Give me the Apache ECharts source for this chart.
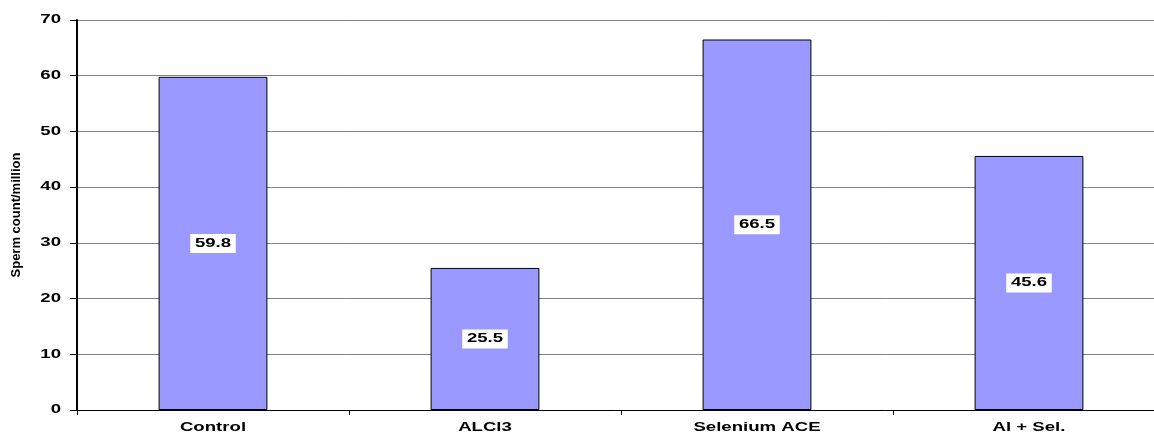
<!DOCTYPE html>
<html>
<head>
<meta charset="utf-8">
<script src="https://cdn.jsdelivr.net/npm/echarts@6/dist/echarts.min.js"></script>
<style>
  html, body { margin: 0; padding: 0; background: #fff; overflow: hidden; }
  #chart { width: 1154px; height: 432px; }
</style>
</head>
<body>
<div id="chart"></div>
<script>
// Sperm count per group
const categories = ['Control', 'ALCl3', 'Selenium ACE', 'Al + Sel.'];
const spermCount = [59.8, 25.5, 66.5, 45.6];
const yTickValues = [0, 10, 20, 30, 40, 50, 60, 70];

const chart = echarts.init(document.getElementById('chart'), null, { renderer: 'canvas' });
const FONT = '"Liberation Sans", Arial, sans-serif';
const TEXT_FONT = 'bold 12px ' + FONT;
const WIDE = 1.55;   // horizontally widened lettering

chart.setOption({
  animation: false,
  backgroundColor: '#ffffff',
  grid: {
    left: 77, top: 20, right: -11, bottom: 22,
    containLabel: false,
    outerBoundsMode: 'none'
  },
  xAxis: {
    type: 'category',
    data: categories,
    axisLine: { lineStyle: { color: '#000', width: 1 } },
    axisTick: { show: true, interval: 0, length: 5, lineStyle: { color: '#000' } },
    axisLabel: { show: false }
  },
  yAxis: {
    type: 'value',
    min: yTickValues[0],
    max: yTickValues[yTickValues.length - 1],
    interval: yTickValues[1] - yTickValues[0],
    name: 'Sperm count/million',
    nameLocation: 'middle',
    nameGap: 54,
    nameRotate: 90,
    nameTextStyle: { color: '#000', fontFamily: FONT, fontWeight: 'bold', fontSize: 13 },
    axisLine: { show: true, lineStyle: { color: '#000', width: 2 } },
    axisTick: { show: true, length: 7, lineStyle: { color: '#000' } },
    axisLabel: { show: false },
    splitLine: { lineStyle: { color: '#808080', width: 1 } }
  },
  series: [{
    type: 'bar',
    data: spermCount,
    barWidth: '40%',
    itemStyle: { color: '#9999ff', borderColor: '#000', borderWidth: 1 },
    label: { show: false }
  }]
});

// Wide bold lettering for tick labels, category names and value boxes
function wideText(x, y, text, align, extra) {
  return {
    type: 'text',
    x: x, y: y,
    scaleX: WIDE,
    silent: true,
    z: 100,
    style: Object.assign({
      text: text,
      font: TEXT_FONT,
      fill: '#000',
      textAlign: align,
      textVerticalAlign: 'middle'
    }, extra || {})
  };
}

const graphics = [];
const finder = { xAxisIndex: 0, yAxisIndex: 0 };

yTickValues.forEach(v => {
  const p = chart.convertToPixel(finder, [0, v]);
  graphics.push(wideText(61, p[1], String(v), 'right'));
});

categories.forEach((c, i) => {
  const p = chart.convertToPixel(finder, [i, 0]);
  graphics.push(wideText(p[0], p[1] + 18, c, 'center'));
});

spermCount.forEach((v, i) => {
  const p = chart.convertToPixel(finder, [i, v / 2]);
  graphics.push(wideText(p[0], p[1], v.toFixed(1), 'center', {
    backgroundColor: '#ffffff',
    padding: [4, 3, 3, 3]
  }));
});

chart.setOption({ graphic: graphics });
</script>
</body>
</html>
